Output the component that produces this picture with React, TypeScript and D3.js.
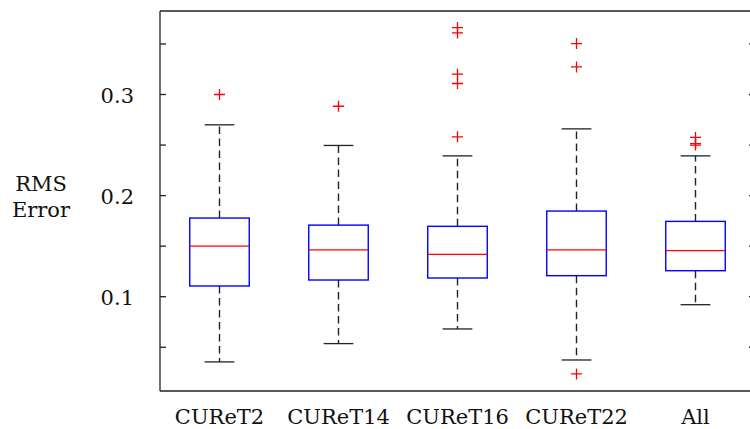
import React from 'react';
import * as d3 from 'd3';

// box statistics
const groups = ['CUReT2', 'CUReT14', 'CUReT16', 'CUReT22', 'All'];
const whiskerLow = [0.0355, 0.0536, 0.0681, 0.0374, 0.0921];
const q1 = [0.1106, 0.1165, 0.1185, 0.1208, 0.1257];
const medians = [0.150, 0.1464, 0.1419, 0.1464, 0.1455];
const q3 = [0.1778, 0.1708, 0.1696, 0.1847, 0.1745];
const whiskerHigh = [0.270, 0.2496, 0.2393, 0.266, 0.2393];
const outliers = [
  [0.300],
  [0.2884],
  [0.3662, 0.3609, 0.3201, 0.3109, 0.2581],
  [0.3504, 0.3273, 0.0236],
  [0.2575, 0.2515, 0.250],
];
const majorTicks = [0.1, 0.2, 0.3];
const minorTicks = [0.05, 0.15, 0.25, 0.35];

const W = 750;
const H = 429;
const left = 160;
const right = 755;
const top = 11;
const bottom = 391;
const font = "'DejaVu Serif', 'Liberation Serif', 'Times New Roman', Tinos, serif";

export default function App() {
  const x = d3.scaleLinear().domain([0.5, groups.length + 0.5]).range([left, right]);
  const y = d3.scaleLinear().domain([0.3, 0.1]).range([94.5, 296.7]);
  const boxW = x(1.25) - x(1);
  const capW = x(1.125) - x(1);
  const allTicks = majorTicks.concat(minorTicks);
  const txt = { fontFamily: font, fontSize: 21, fill: '#111' };

  return (
    <svg width={W} height={H} style={{ position: 'absolute', left: 0, top: 0, background: '#fff', fontFamily: font }}>
      {/* frame */}
      <g stroke="#222" strokeWidth={1.3} fill="none">
        <line x1={left} x2={right} y1={top} y2={top} />
        <line x1={left} x2={right} y1={bottom} y2={bottom} />
        <line x1={left} x2={left} y1={top} y2={bottom} />
        <line x1={right} x2={right} y1={top} y2={bottom} />
        {allTicks.map((t, i) => (
          <g key={i}>
            <line x1={left} x2={left + 6} y1={y(t)} y2={y(t)} />
            <line x1={right - 6} x2={right} y1={y(t)} y2={y(t)} />
          </g>
        ))}
      </g>
      {majorTicks.map((t, i) => (
        <text key={i} x={134} y={y(t) + 8} textAnchor="end" style={txt}>
          {t.toFixed(1)}
        </text>
      ))}
      <text x={41} y={191} textAnchor="middle" style={txt}>RMS</text>
      <text x={41} y={217} textAnchor="middle" style={txt}>Error</text>

      {groups.map((g, i) => {
        const cx = x(i + 1);
        return (
          <g key={g}>
            <g stroke="#222" strokeWidth={1.4} strokeDasharray="7.5,4.5">
              <line x1={cx} x2={cx} y1={y(q3[i])} y2={y(whiskerHigh[i])} />
              <line x1={cx} x2={cx} y1={y(q1[i])} y2={y(whiskerLow[i])} />
            </g>
            <g stroke="#222" strokeWidth={1.3}>
              <line x1={cx - capW} x2={cx + capW} y1={y(whiskerHigh[i])} y2={y(whiskerHigh[i])} />
              <line x1={cx - capW} x2={cx + capW} y1={y(whiskerLow[i])} y2={y(whiskerLow[i])} />
            </g>
            <rect x={cx - boxW} y={y(q3[i])} width={boxW * 2} height={y(q1[i]) - y(q3[i])}
              fill="none" stroke="#0000ff" strokeWidth={1.4} />
            <line x1={cx - boxW} x2={cx + boxW} y1={y(medians[i])} y2={y(medians[i])} stroke="#ff0000" strokeWidth={1.2} />
            {outliers[i].map((o, j) => (
              <path key={j} d={`M${cx - 5.5},${y(o)}H${cx + 5.5}M${cx},${y(o) - 5.5}V${y(o) + 5.5}`}
                stroke="#ff0000" strokeWidth={1.3} fill="none" />
            ))}
            <text x={cx} y={424} textAnchor="middle" style={txt}>{g}</text>
          </g>
        );
      })}
    </svg>
  );
}
